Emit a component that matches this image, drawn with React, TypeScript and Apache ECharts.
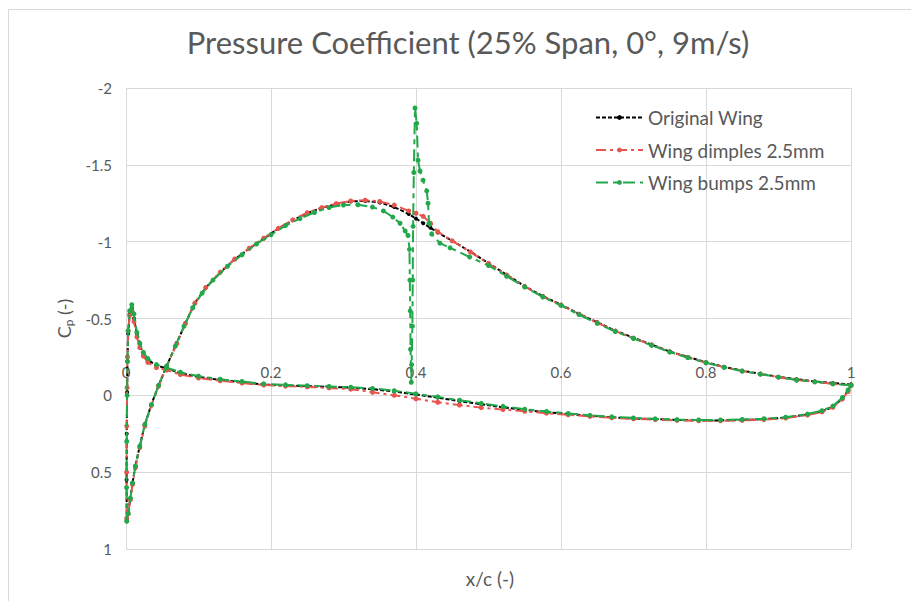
import React, { useEffect, useRef } from "react";
import * as echarts from "echarts";

// ---------- data (x/c, Cp) ----------
// Upper (suction) surface, trailing edge -> leading edge
const origUpperX = [1.0, 0.975, 0.95, 0.925, 0.9, 0.875, 0.85, 0.825, 0.8, 0.775, 0.75, 0.725, 0.7, 0.675, 0.65, 0.625, 0.6, 0.575, 0.55, 0.525, 0.5, 0.475, 0.45, 0.43, 0.42, 0.41, 0.4, 0.39, 0.37, 0.35, 0.33, 0.31, 0.29, 0.27, 0.25, 0.23, 0.21, 0.19, 0.17, 0.15, 0.13, 0.11, 0.095, 0.082, 0.07, 0.056, 0.045, 0.035, 0.026, 0.019, 0.013, 0.009, 0.006, 0.003, 0.001];
const origUpperCp = [-0.07, -0.08, -0.09, -0.105, -0.12, -0.14, -0.16, -0.185, -0.215, -0.25, -0.285, -0.33, -0.375, -0.42, -0.475, -0.53, -0.59, -0.645, -0.71, -0.785, -0.86, -0.935, -1.005, -1.06, -1.09, -1.12, -1.15, -1.18, -1.225, -1.255, -1.265, -1.262, -1.245, -1.22, -1.185, -1.14, -1.085, -1.02, -0.955, -0.885, -0.8, -0.7, -0.6, -0.47, -0.34, -0.19, -0.065, 0.06, 0.19, 0.33, 0.46, 0.57, 0.67, 0.76, 0.81];
// Lower surface, leading edge -> trailing edge
const origLowerX = [0.0008, 0.001, 0.0015, 0.002, 0.003, 0.005, 0.008, 0.011, 0.015, 0.019, 0.024, 0.03, 0.042, 0.056, 0.075, 0.1, 0.13, 0.16, 0.19, 0.22, 0.25, 0.28, 0.31, 0.34, 0.37, 0.4, 0.43, 0.46, 0.49, 0.52, 0.55, 0.58, 0.61, 0.64, 0.67, 0.7, 0.73, 0.76, 0.79, 0.82, 0.85, 0.88, 0.91, 0.94, 0.96, 0.975, 0.988, 0.996, 1.0];
const origLowerCp = [0.55, 0.25, -0.02, -0.22, -0.4, -0.53, -0.57, -0.5, -0.4, -0.33, -0.27, -0.23, -0.195, -0.175, -0.145, -0.12, -0.1, -0.085, -0.07, -0.064, -0.06, -0.055, -0.05, -0.04, -0.025, -0.005, 0.015, 0.038, 0.058, 0.078, 0.095, 0.11, 0.122, 0.133, 0.143, 0.15, 0.155, 0.16, 0.163, 0.163, 0.16, 0.155, 0.145, 0.125, 0.105, 0.075, 0.02, -0.03, -0.07];

const dimpUpperCp = [-0.065, -0.075, -0.088, -0.1, -0.118, -0.138, -0.158, -0.183, -0.212, -0.247, -0.283, -0.328, -0.372, -0.418, -0.472, -0.528, -0.587, -0.643, -0.708, -0.782, -0.858, -0.932, -1.005, -1.065, -1.12, -1.165, -1.185, -1.2, -1.238, -1.262, -1.27, -1.265, -1.248, -1.222, -1.188, -1.142, -1.087, -1.022, -0.957, -0.887, -0.802, -0.702, -0.6, -0.468, -0.336, -0.185, -0.06, 0.065, 0.2, 0.34, 0.47, 0.58, 0.68, 0.77, 0.8];
const dimpLowerCp = [0.5, 0.2, -0.05, -0.25, -0.42, -0.52, -0.55, -0.48, -0.38, -0.31, -0.255, -0.215, -0.18, -0.165, -0.135, -0.113, -0.095, -0.08, -0.067, -0.06, -0.055, -0.048, -0.04, -0.02, 0.0, 0.022, 0.045, 0.063, 0.08, 0.093, 0.104, 0.116, 0.127, 0.137, 0.146, 0.153, 0.158, 0.163, 0.166, 0.166, 0.163, 0.158, 0.148, 0.128, 0.108, 0.078, 0.025, -0.025, -0.065];

const bumpUpperX = [1.0, 0.975, 0.95, 0.925, 0.9, 0.875, 0.85, 0.825, 0.8, 0.775, 0.75, 0.725, 0.7, 0.675, 0.65, 0.625, 0.6, 0.575, 0.55, 0.525, 0.5, 0.474, 0.447, 0.433, 0.4217, 0.418, 0.4166, 0.4148, 0.4097, 0.4055, 0.4028, 0.401, 0.3986, 0.397, 0.396, 0.3955, 0.395, 0.394, 0.3935, 0.3925, 0.392, 0.3915, 0.391, 0.389, 0.385, 0.378, 0.368, 0.355, 0.34, 0.32, 0.3, 0.28, 0.26, 0.24, 0.22, 0.2, 0.18, 0.16, 0.14, 0.12, 0.105, 0.092, 0.08, 0.068, 0.056, 0.045, 0.035, 0.026, 0.019, 0.013, 0.009, 0.006, 0.003, 0.001];
const bumpUpperCp = [-0.065, -0.075, -0.088, -0.1, -0.118, -0.138, -0.158, -0.183, -0.212, -0.245, -0.282, -0.325, -0.37, -0.415, -0.468, -0.525, -0.585, -0.64, -0.705, -0.775, -0.845, -0.9, -0.96, -0.99, -1.05, -1.12, -1.25, -1.33, -1.4, -1.46, -1.53, -1.77, -1.87, -1.45, -1.1, -0.75, -0.45, -0.2, -0.085, -0.3, -0.55, -0.75, -0.95, -1.04, -1.07, -1.12, -1.16, -1.2, -1.225, -1.24, -1.238, -1.222, -1.19, -1.15, -1.105, -1.045, -0.985, -0.915, -0.84, -0.75, -0.665, -0.57, -0.45, -0.32, -0.19, -0.065, 0.06, 0.19, 0.33, 0.46, 0.57, 0.67, 0.77, 0.82];
const bumpLowerCp = [0.6, 0.3, 0.0, -0.22, -0.42, -0.55, -0.59, -0.53, -0.41, -0.34, -0.28, -0.24, -0.2, -0.18, -0.15, -0.125, -0.105, -0.09, -0.075, -0.068, -0.063, -0.058, -0.053, -0.045, -0.03, -0.01, 0.01, 0.032, 0.052, 0.072, 0.09, 0.105, 0.118, 0.13, 0.14, 0.147, 0.153, 0.158, 0.16, 0.16, 0.157, 0.152, 0.142, 0.122, 0.1, 0.07, 0.015, -0.035, -0.065];

const xTickValues = [0, 0.2, 0.4, 0.6, 0.8, 1];
const seriesNames = ["Original Wing", "Wing dimples 2.5mm", "Wing bumps 2.5mm"];
const seriesColors = ["#000000", "#E8544E", "#22A84B"];
const titleText = "Pressure Coefficient (25% Span, 0°, 9m/s)";

const zip = (xs: number[], ys: number[]) => xs.map((x, i) => [x, ys[i]]);

export default function App() {
  const ref = useRef<HTMLDivElement>(null);
  useEffect(() => {
    if (!ref.current) return;
    const chart = echarts.init(ref.current, null, { renderer: "svg" });
    const font = "Lato";
    const grey = "#595959";
    const gridCol = "#D9D9D9";
    const dataSets = [
      [...zip(origUpperX, origUpperCp), ...zip(origLowerX, origLowerCp)],
      [...zip(origUpperX, dimpUpperCp), ...zip(origLowerX, dimpLowerCp)],
      [...zip(bumpUpperX, bumpUpperCp), ...zip(origLowerX, bumpLowerCp)],
    ];
    const dashes: any[] = [[4, 2], [10, 4, 3, 4], [12, 5, 5, 5]];
    const lineSeries = dataSets.map((d, i) => ({
      name: seriesNames[i],
      type: "line",
      data: d,
      z: 3 + i,
      symbol: "circle",
      symbolSize: i === 0 ? 4 : 5,
      showSymbol: true,
      color: seriesColors[i],
      lineStyle: { color: seriesColors[i], width: 2, type: dashes[i] },
      itemStyle: { color: seriesColors[i] },
    }));
    chart.setOption({
      animation: false,
      backgroundColor: "#ffffff",
      title: {
        text: titleText,
        left: 463,
        textAlign: "center",
        top: 21,
        textStyle: { fontFamily: font, fontSize: 31, fontWeight: "normal", color: grey },
      },
      legend: {
        orient: "vertical",
        left: 590,
        top: 103,
        itemWidth: 47,
        itemHeight: 6,
        itemGap: 13.5,
        data: seriesNames,
        textStyle: { fontFamily: font, fontSize: 19, color: grey },
      },
      grid: { left: 126, right: 60, top: 88, bottom: 52, containLabel: false },
      xAxis: {
        type: "value",
        min: 0,
        max: 1,
        interval: 0.2,
        axisLine: { onZero: true, lineStyle: { color: gridCol, width: 1 } },
        axisTick: { show: false },
        axisLabel: { show: false },
        splitLine: { show: true, lineStyle: { color: gridCol } },
      },
      yAxis: {
        type: "value",
        min: -2,
        max: 1,
        interval: 0.5,
        inverse: true,
        axisLine: { show: true, onZero: false, lineStyle: { color: gridCol } },
        axisTick: { show: false },
        axisLabel: { margin: 14, fontFamily: font, fontSize: 15, color: grey },
        splitLine: { show: true, lineStyle: { color: gridCol } },
        name: "{a|C}{b|p}{a| (-)}",
        nameLocation: "middle",
        nameRotate: 90,
        nameGap: 52,
        nameTextStyle: {
          rich: {
            a: { fontFamily: font, fontSize: 18, color: grey },
            b: { fontFamily: font, fontSize: 12, color: grey, verticalAlign: "bottom", padding: [8, 0, 0, 0] },
          },
        },
      },
      graphic: [
        {
          type: "rect",
          shape: { x: 8.5, y: 9.5, width: 930, height: 640 },
          style: { fill: "none", stroke: gridCol, lineWidth: 1 },
          silent: true,
        },
        {
          type: "text",
          x: 490,
          y: 578,
          style: { text: "x/c (-)", fontFamily: font, fontSize: 19, fill: grey, align: "center", verticalAlign: "middle" },
        },
      ],
      series: [
        {
          type: "scatter",
          name: "xticks",
          data: xTickValues.map((v) => [v, 0]),
          symbolSize: 0,
          silent: true,
          clip: false,
          z: 1,
          itemStyle: { opacity: 1 },
          label: {
            show: true,
            position: "top",
            distance: 16,
            formatter: (p: any) => String(p.value[0]),
            fontFamily: font,
            fontSize: 15,
            color: grey,
            opacity: 1,
            textBorderWidth: 0,
            textBorderColor: "transparent",
          },
        },
        ...lineSeries,
      ],
    });
    return () => chart.dispose();
  }, []);
  return <div ref={ref} style={{ position: "fixed", left: 0, top: 0, width: 911, height: 601 }} />;
}
